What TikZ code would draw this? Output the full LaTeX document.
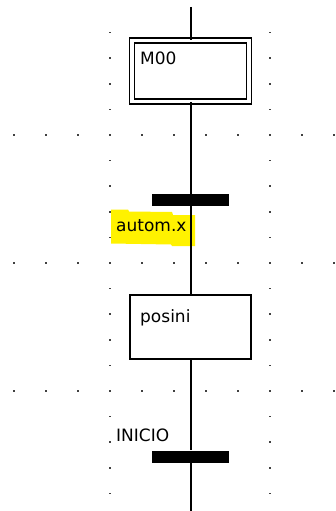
\documentclass[tikz,border=0pt]{standalone}
\usepackage{fontspec}
\setmainfont{DejaVu Sans}
\begin{document}
\begin{tikzpicture}[x=1pt,y=-1pt,
  link/.style={line width=2pt,black},
  stepbox/.style={draw,line width=1.7pt,fill=white,minimum width=121pt,minimum height=64pt,inner sep=0pt},
  initbox/.style={draw,double=white,double distance=3.4pt,line width=1.5pt,fill=white,minimum width=117pt,minimum height=61pt,inner sep=0pt},
  bar/.style={fill=black,draw=none,minimum width=77pt,minimum height=12pt,inner sep=0pt},
  caption/.style={font=\fontsize{17}{20}\selectfont,inner sep=0pt,anchor=base west},
  griddot/.style={fill=black!75}
]
\useasboundingbox (0,0) rectangle (335,511);

% snap grid
\foreach \k in {0,...,18}{
  \foreach \gx in {110,270}{
    \fill[griddot] (\gx-0.8,32.6+25.6*\k-0.8) rectangle ++(1.6,1.6);
  }
}
\foreach \gy in {135,263,391}{
  \foreach \gx in {14,46,78,142,174,206,238,302,334}{
    \fill[griddot] (\gx-0.8,\gy-0.8) rectangle ++(1.6,1.6);
  }
}

% marker highlight behind the first receptivity
\fill[yellow] (111,209.5) -- (128,209.5) -- (129,211.5) -- (172,212) -- (173,215)
  -- (195,215) -- (195,246) -- (172,246) -- (171,244.5) -- (111,243.5) -- cycle;

% steps and transitions
\node[initbox] (m00) at (190.5,71) {};
\node[stepbox] (posini) at (190.5,327) {};
\node[bar] (t1) at (190.5,200) {};
\node[bar] (t2) at (190.5,456.5) {};
\coordinate (top) at (190.5,7);
\coordinate (bottom) at (190.5,511);

% links
\draw[link] (top) -- (m00.north);
\draw[link] (m00.south) -- (t1.north);
\draw[link] (t1.south) -- (posini.north);
\draw[link] (posini.south) -- (t2.north);
\draw[link] (t2.south) -- (bottom);

% texts
\node[caption] (m00txt) at (140,65) {M00};
\node[caption] (posinitxt) at (140,322) {posini};
\node[caption] (t1txt) at (116,231) {autom.x};
\node[caption] (t2txt) at (116,441) {INICIO};
\end{tikzpicture}
\end{document}
